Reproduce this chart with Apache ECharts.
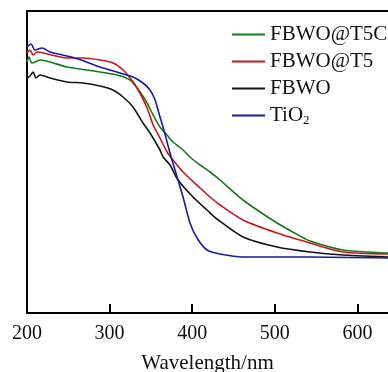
<!DOCTYPE html>
<html><head><meta charset="utf-8">
<script src="https://cdn.jsdelivr.net/npm/echarts@6/dist/echarts.min.js"></script>
<style>html,body{margin:0;padding:0;background:#fff}#c{width:388px;height:372px}</style>
</head><body><div id="c"></div>
<script>
// Wavelength (nm) and absorbance (a.u.)
const seriesNames = ['FBWO@T5C', 'FBWO@T5', 'FBWO', 'TiO2'];
const xTicks = [200, 300, 400, 500, 600];

const t5cWl = [200,202.4,206.1,215.7,248.4,288.4,309.0,324.8,336.9,345.4,352.7,361.0,369.5,376.8,388.9,397.3,409.5,421.6,433.7,461.5,502.7,530.5,542.6,582.6,637.1];
const t5cAbs = [2.51,2.56,2.50,2.53,2.46,2.41,2.38,2.33,2.21,2.10,1.98,1.86,1.78,1.71,1.63,1.56,1.48,1.41,1.33,1.13,0.90,0.77,0.72,0.63,0.60];

const t5Wl = [200,203.6,207.3,212.1,248.4,268.0,288.4,304.2,316.3,324.8,333.3,345.4,352.7,361.0,369.5,376.8,388.9,409.5,421.6,433.7,461.5,502.7,542.6,582.6,637.1];
const t5Abs = [2.60,2.63,2.58,2.61,2.55,2.55,2.53,2.50,2.43,2.35,2.25,2.05,1.88,1.75,1.61,1.53,1.41,1.25,1.16,1.08,0.93,0.80,0.70,0.61,0.59];

const fbwoWl = [200,203.6,207.3,210.9,215.7,227.8,248.4,267.8,288.4,304.1,316.2,328.3,340.4,348.9,361.0,364.7,373.1,382.8,401.0,417.9,430.0,461.5,502.7,542.6,582.6,637.1];
const fbwoAbs = [2.35,2.37,2.41,2.35,2.38,2.35,2.31,2.30,2.27,2.23,2.16,2.06,1.90,1.80,1.63,1.56,1.48,1.33,1.16,1.03,0.94,0.76,0.66,0.61,0.58,0.56];

const tio2Wl = [200,204.8,209.7,218.2,227.8,258.1,288.4,312.6,328.3,340.4,348.9,355.0,361.0,364.7,373.1,382.8,388.9,397.3,405.8,417.9,433.7,461.5,542.6,637.1];
const tio2Abs = [2.66,2.69,2.63,2.65,2.61,2.55,2.46,2.40,2.36,2.30,2.23,2.13,1.96,1.86,1.60,1.33,1.16,0.90,0.75,0.63,0.59,0.56,0.56,0.55];

const colors = ['#147a1a', '#c8161b', '#141414', '#1a1aa8'];
const wls = [t5cWl, t5Wl, fbwoWl, tio2Wl];
const abss = [t5cAbs, t5Abs, fbwoAbs, tio2Abs];

const FONT = "'Liberation Serif','Times New Roman',serif";
const chart = echarts.init(document.getElementById('c'), null, {renderer: 'canvas'});

const series = seriesNames.map((n, i) => ({
  name: n,
  type: 'line',
  data: wls[i].map((w, k) => [w, abss[i][k]]),
  smooth: 0.25,
  showSymbol: false,
  symbol: 'none',
  lineStyle: {color: colors[i], width: 1.6},
  itemStyle: {color: colors[i]}
}));

chart.setOption({
  animation: false,
  backgroundColor: '#fff',
  grid: {left: 27, right: 0, top: 11, bottom: 59, containLabel: false, outerBoundsMode: 'none'},
  legend: {
    orient: 'vertical',
    left: 227,
    top: 19,
    itemGap: 6,
    itemWidth: 33,
    itemHeight: 2,
    icon: 'rect',
    textStyle: {
      fontFamily: FONT, fontSize: 21, color: '#111', lineHeight: 21,
      rich: {
        n: {fontFamily: FONT, fontSize: 21, color: '#111'},
        s: {fontFamily: FONT, fontSize: 13, color: '#111', padding: [10, 0, 0, 0]}
      }
    },
    formatter: function (name) {
      if (name === 'TiO2') return '{n|TiO}{s|2}';
      return name;
    },
    data: seriesNames
  },
  xAxis: [{
    type: 'value',
    min: 200,
    max: 637,
    interval: 100,
    name: 'Wavelength/nm',
    nameLocation: 'middle',
    nameGap: 40,
    nameTextStyle: {fontFamily: FONT, fontSize: 21, color: '#111'},
    axisLine: {show: true, onZero: false, lineStyle: {color: '#000', width: 2}},
    axisTick: {show: true, inside: true, length: 9, interval: 0, lineStyle: {color: '#000', width: 2}},
    axisLabel: {
      show: true, margin: 11, fontFamily: FONT, fontSize: 20, color: '#111',
      showMaxLabel: false,
      formatter: function (v) { return xTicks.indexOf(v) >= 0 ? String(v) : ''; }
    },
    splitLine: {show: false}
  }, {
    type: 'value',
    position: 'top',
    min: 200,
    max: 637,
    axisLine: {show: true, onZero: false, lineStyle: {color: '#000', width: 2}},
    axisTick: {show: false},
    axisLabel: {show: false},
    splitLine: {show: false}
  }],
  yAxis: {
    type: 'value',
    min: 0,
    max: 3.02,
    axisLine: {show: true, onZero: false, lineStyle: {color: '#000', width: 2}},
    axisTick: {show: false},
    axisLabel: {show: false},
    splitLine: {show: false}
  },
  series: series
});
</script>
</body></html>
